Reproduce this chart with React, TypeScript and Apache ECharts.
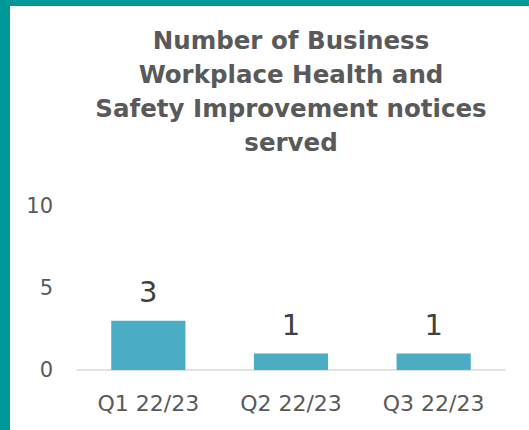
import React, { useEffect, useRef } from "react";
import * as echarts from "echarts";

const categories = ["Q1 22/23", "Q2 22/23", "Q3 22/23"];
const values = [3, 1, 1];
const titleLines = [
  "Number of Business",
  "Workplace Health and",
  "Safety Improvement notices",
  "served",
];

const FONT = "'DejaVu Sans', sans-serif";
const GREY = "#595959";

export default function App() {
  const ref = useRef<HTMLDivElement>(null);
  useEffect(() => {
    if (!ref.current) return;
    const chart = echarts.init(ref.current, undefined, { renderer: "svg" });
    chart.setOption({
      animation: false,
      backgroundColor: "#ffffff",
      graphic: [
        { type: "rect", shape: { x: 0, y: 0, width: 529, height: 6 }, style: { fill: "#009999" } },
        { type: "rect", shape: { x: 0, y: 0, width: 10, height: 430 }, style: { fill: "#009999" } },
        {
          type: "text",
          x: 291,
          y: 23,
          style: {
            text: titleLines.join("\n"),
            align: "center",
            verticalAlign: "top",
            fontFamily: FONT,
            fontWeight: "bold",
            fontSize: 24.5,
            lineHeight: 34,
            fill: GREY,
          },
        },
      ],
      grid: { left: 77, right: 24, top: 206, bottom: 60, containLabel: false },
      xAxis: {
        type: "category",
        data: categories,
        axisLine: { show: true, lineStyle: { color: "#d9d9d9", width: 1.5 } },
        axisTick: { show: false },
        axisLabel: { color: GREY, fontFamily: FONT, fontSize: 22, margin: 22 },
      },
      yAxis: {
        type: "value",
        min: 0,
        max: 10,
        interval: 5,
        splitLine: { show: false },
        axisLine: { show: false },
        axisTick: { show: false },
        axisLabel: { color: GREY, fontFamily: FONT, fontSize: 21, margin: 24 },
      },
      series: [
        {
          type: "bar",
          data: values,
          barWidth: "52%",
          itemStyle: { color: "#4BACC6" },
          label: {
            show: true,
            position: "top",
            distance: 14,
            color: "#404040",
            fontFamily: FONT,
            fontSize: 29,
          },
        },
      ],
    });
    return () => chart.dispose();
  }, []);
  return (
    <div style={{ position: "fixed", left: 0, top: 0, width: 529, height: 430 }}>
      <div ref={ref} style={{ width: 529, height: 430 }} />
    </div>
  );
}
